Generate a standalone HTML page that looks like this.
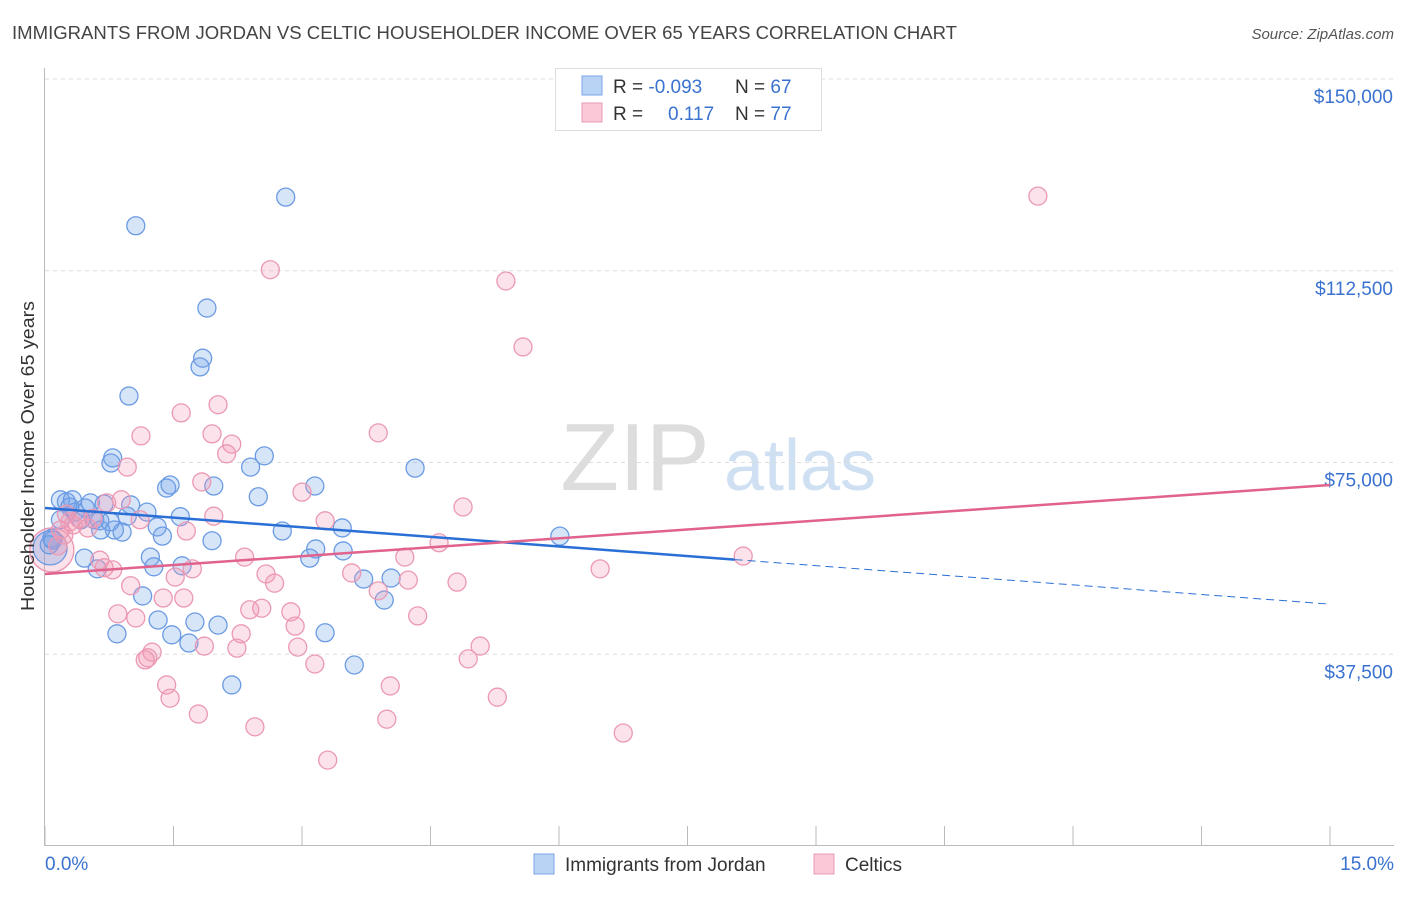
<!DOCTYPE html>
<html><head><meta charset="utf-8"><style>
body{margin:0;background:#fff;font-family:"Liberation Sans",sans-serif;}
svg text{font-family:"Liberation Sans",sans-serif;}
</style></head><body>
<svg id="chart" width="1406" height="892" xmlns="http://www.w3.org/2000/svg">
<text x="12" y="39" font-size="18" fill="#444" textLength="945" lengthAdjust="spacingAndGlyphs">IMMIGRANTS FROM JORDAN VS CELTIC HOUSEHOLDER INCOME OVER 65 YEARS CORRELATION CHART</text>
<text x="1394" y="39" font-size="15" fill="#555" font-style="italic" text-anchor="end">Source: ZipAtlas.com</text>
<g>
<text x="635" y="490" font-size="96" fill="#ddd" font-family="Liberation Serif" text-anchor="middle">ZIP</text>
<text x="800" y="490" font-size="72" fill="#cfe0f3" text-anchor="middle">atlas</text>
</g>
<g id="grid"></g>
<g id="axes"></g>
<g id="pts"></g>
<g id="trends"></g>
<text transform="translate(34,456) rotate(-90)" font-size="18" fill="#333" text-anchor="middle" textLength="310" lengthAdjust="spacingAndGlyphs">Householder Income Over 65 years</text>
<g>
<rect x="555.5" y="68.5" width="266" height="62" fill="#fff" stroke="#ddd"/>
<rect x="582" y="76" width="20" height="19" fill="#b9d3f5" stroke="#7aa6e8"/>
<rect x="582" y="103" width="20" height="19" fill="#fac8d6" stroke="#eb99b3"/>
<text x="613" y="93" font-size="19" fill="#333">R = <tspan fill="#3a72d0">-0.093</tspan></text>
<text x="735" y="93" font-size="19" fill="#333">N = <tspan fill="#3a72d0">67</tspan></text>
<text x="613" y="120" font-size="19" fill="#333">R = <tspan x="668" fill="#3a72d0">0.117</tspan></text>
<text x="735" y="120" font-size="19" fill="#333">N = <tspan fill="#3a72d0">77</tspan></text>
</g>
<g>
<rect x="534" y="854" width="20" height="20" fill="#b9d3f5" stroke="#7aa6e8"/>
<text x="565" y="871" font-size="19" fill="#333">Immigrants from Jordan</text>
<rect x="814" y="854" width="20" height="20" fill="#fac8d6" stroke="#eb99b3"/>
<text x="845" y="871" font-size="19" fill="#333">Celtics</text>
</g>
</svg>
<script>
const blueX=[1.06,2.81,1.89,1.84,1.81,0.98,0.79,0.77,2.56,2.40,4.32,1.42,1.46,1.97,2.49,3.15,0.18,0.25,0.32,0.53,0.69,1.00,1.19,0.96,1.58,0.42,0.58,0.64,1.31,0.81,0.90,0.65,1.37,2.77,3.47,1.95,3.16,3.48,6.01,1.23,0.46,0.61,1.27,1.60,3.09,3.72,4.04,3.96,1.14,1.32,1.75,2.02,0.84,1.48,1.68,3.27,3.61,2.18,0.08,0.05,0.09,0.29,0.35,0.18,0.76,0.47];
const blueY=[121.3,126.9,105.2,95.4,93.7,88.0,75.9,74.9,76.3,74.1,73.9,70.0,70.6,70.4,68.3,70.4,67.7,67.3,67.7,67.1,66.9,66.7,65.3,64.5,64.4,63.8,63.8,63.6,62.4,61.8,61.4,61.8,60.6,61.6,62.2,59.7,58.1,57.7,60.6,56.5,56.3,54.2,54.6,54.8,56.3,52.2,52.4,48.1,48.9,44.2,43.8,43.2,41.5,41.3,39.7,41.7,35.4,31.5,60.2,58.9,59.8,66.3,65.3,63.8,63.4,66.1];
const pinkX=[11.59,2.63,5.38,5.58,1.59,2.02,3.89,1.12,1.95,2.18,0.96,2.12,1.83,3.00,4.88,1.97,3.27,0.72,0.89,0.40,0.25,0.33,0.56,0.22,0.15,1.65,4.60,2.33,4.20,8.15,6.48,1.72,0.79,0.69,1.52,2.58,3.58,2.68,4.24,4.81,1.00,3.89,1.38,1.62,0.85,1.06,2.39,2.53,2.87,2.92,4.35,2.29,2.24,1.86,2.95,5.08,4.94,1.25,1.20,1.17,3.15,1.42,4.03,1.46,5.28,1.79,3.99,2.45,6.75,3.30,0.18,0.29,0.64,0.50,1.11];
const pinkY=[127.1,112.7,110.5,97.6,84.7,86.3,80.8,80.2,80.6,78.6,74.1,76.7,71.2,69.2,66.3,64.5,63.6,67.1,67.7,64.0,64.9,62.8,64.1,60.8,58.7,61.6,59.3,56.5,56.5,56.7,54.2,54.2,54.0,54.4,52.6,53.2,53.4,51.4,52.0,51.6,50.9,49.9,48.5,48.5,45.4,44.6,46.2,46.5,45.8,43.0,45.0,41.5,38.7,39.1,38.9,39.1,36.6,37.9,36.8,36.4,35.6,31.5,31.3,28.9,29.1,25.8,24.8,23.3,22.1,16.8,61.8,63.4,55.9,62.2,63.8];
const bigBlue=[0.06,58.3];
const bigPink=[0.08,57.9];
const blueTrend=[66.1,-1.253,8.05];
const pinkTrend=[53.2,1.16];
const yTicks=[37.5,75,112.5,150];
const yTickLabels=["$37,500","$75,000","$112,500","$150,000"];
const xTicks=[0,1.5,3,4.5,6,7.5,9,10.5,12,13.5,15];

const NS="http://www.w3.org/2000/svg";
const X=v=>45+v/15*1285;
const Y=v=>846-v/150*767;
function mk(tag,attrs,parent){const e=document.createElementNS(NS,tag);for(const k in attrs)e.setAttribute(k,attrs[k]);parent.appendChild(e);return e;}
const grid=document.getElementById('grid'),axes=document.getElementById('axes'),pts=document.getElementById('pts'),tr=document.getElementById('trends');
yTicks.forEach((t,i)=>{
  const l=mk('line',{x1:45,x2:1394,y1:Y(t),y2:Y(t),stroke:'#ddd','stroke-dasharray':'4,4'},grid);
  
  
  const tx=mk('text',{x:1393,y:Y(t)+24,'font-size':19,fill:'#3a72d0','text-anchor':'end'},axes);
  tx.textContent=yTickLabels[i];
  
  
});
const ax=mk('line',{x1:44.5,x2:44.5,y1:68,y2:846,stroke:'#bbb'},axes);


const bx=mk('line',{x1:45,x2:1394,y1:845.5,y2:845.5,stroke:'#bbb'},axes);


xTicks.forEach(t=>{
  const l=mk('line',{x1:X(t),x2:X(t),y1:826,y2:846,stroke:'#bbb'},axes);
  
  
});
const x0=mk('text',{x:45,y:870,'font-size':19,fill:'#3a72d0'},axes);x0.textContent='0.0%';


const x1=mk('text',{x:1394,y:870,'font-size':19,fill:'#3a72d0','text-anchor':'end'},axes);x1.textContent='15.0%';



function dot(x,y,r,fill,stroke,name){
  const c=mk('circle',{cx:X(x),cy:Y(y),r:r,fill:fill,stroke:stroke,'stroke-width':1.3},pts);
  
  
}
dot(bigPink[0],bigPink[1],22,'rgba(240,140,170,0.25)','#eb99b3','celtics-point-large');
dot(bigBlue[0],bigBlue[1],17,'rgba(110,150,225,0.3)','#6b9be3','jordan-point-large');
blueX.forEach((x,i)=>dot(x,blueY[i],9,'rgba(110,160,235,0.28)','#6b9be3','jordan-point'));
pinkX.forEach((x,i)=>dot(x,pinkY[i],9,'rgba(245,150,180,0.28)','#eb99b3','celtics-point'));

const bf=v=>blueTrend[0]+blueTrend[1]*v;
const b1=mk('line',{x1:X(0),y1:Y(bf(0)),x2:X(blueTrend[2]),y2:Y(bf(blueTrend[2])),stroke:'#2a6fd6','stroke-width':2.5},tr);


const b2=mk('line',{x1:X(blueTrend[2]),y1:Y(bf(blueTrend[2])),x2:X(15),y2:Y(bf(15)),stroke:'#2a6fd6','stroke-width':1,'stroke-dasharray':'8,5'},tr);


const pf=v=>pinkTrend[0]+pinkTrend[1]*v;
const p1=mk('line',{x1:X(0),y1:Y(pf(0)),x2:X(15),y2:Y(pf(15)),stroke:'#e0628d','stroke-width':2.5},tr);


</script>
</body></html>
